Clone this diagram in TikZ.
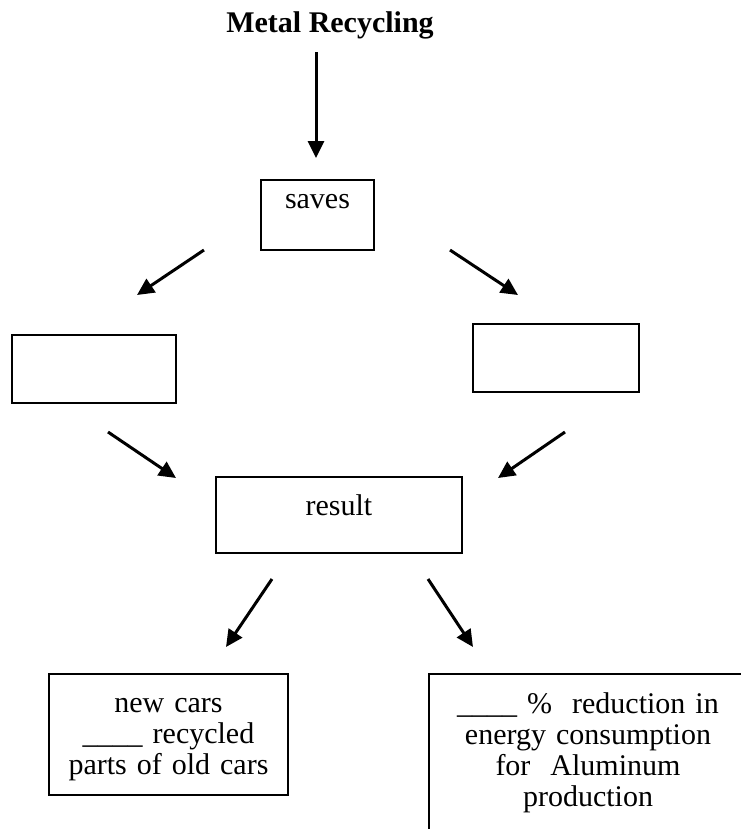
\documentclass[tikz,border=0pt]{standalone}
\usepackage{fontspec}
\setmainfont{Liberation Serif}
\usetikzlibrary{arrows.meta}
\tikzset{>={Triangle[width=6.4pt,length=6.8pt]}}

\begin{document}
\begin{tikzpicture}[x=0.4pt,y=-0.4pt,
  font=\fontsize{12pt}{12.4pt}\selectfont,
  box/.style={draw,line width=0.6pt,inner sep=0pt,align=center},
  arr/.style={->,line width=1.2pt}]

  \useasboundingbox (0,0) rectangle (741,829);
  \clip (0,0) rectangle (741,829);

  \node[font=\fontsize{12pt}{12.4pt}\selectfont\bfseries,anchor=base]
  (title) at (330,32) {Metal Recycling};

  \node[box,anchor=base,text width=45.2pt,text height=11.2pt,text depth=16.8pt]
  (saves) at (317.5,208) {saves};
  \node[box,minimum width=65.6pt,minimum height=27.2pt] (left) at (94,369) {};
  \node[box,minimum width=66.4pt,minimum height=27.2pt] (right) at (556,358) {};
  \node[box,anchor=base,text width=98.4pt,text height=15.2pt,text depth=15.2pt]
  (result) at (339,515) {result};

  \node[box,anchor=base,text width=95.6pt,text height=15.2pt,text depth=33.2pt]
  (cars) at (168.5,712) {new cars\\\_\_\_\_ recycled\\parts of old cars};
  \node[box,anchor=base,text width=127.2pt,text height=15.6pt,text depth=54.8pt]
  (energy) at (588,713)
  {\_\_\_\_ \%~ reduction in\\energy consumption\\for~ Aluminum\\production};

  \coordinate (title out) at (316,52);   \coordinate (saves in) at (316,158);
  \coordinate (saves l) at (204,250);    \coordinate (left in) at (137,295);
  \coordinate (saves r) at (450,250);    \coordinate (right in) at (518,295);
  \coordinate (left out) at (108,432);   \coordinate (result l) at (176,478);
  \coordinate (right out) at (565,432);  \coordinate (result r) at (498,478);
  \coordinate (result sl) at (272,579);  \coordinate (cars in) at (226,647);
  \coordinate (result sr) at (428,579);  \coordinate (energy in) at (473,647);

  \draw[arr] (title out) -- (saves in); %% title -> saves
  \draw[arr] (saves l) -- (left in); %% saves -> left
  \draw[arr] (saves r) -- (right in); %% saves -> right
  \draw[arr] (left out) -- (result l); %% left -> result
  \draw[arr] (right out) -- (result r); %% right -> result
  \draw[arr] (result sl) -- (cars in); %% result -> cars
  \draw[arr] (result sr) -- (energy in); %% result -> energy

\end{tikzpicture}
\end{document}
